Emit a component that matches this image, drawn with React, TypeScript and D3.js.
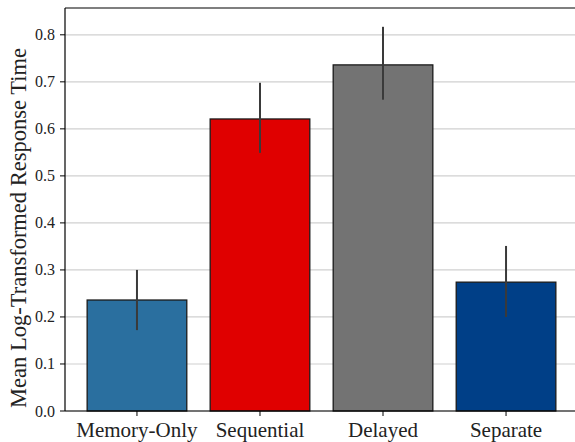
import React from "react";
import * as d3 from "d3";

const categories = ["Memory-Only", "Sequential", "Delayed", "Separate"];
const means = [0.236, 0.621, 0.736, 0.274];
const errLow = [0.172, 0.549, 0.662, 0.2];
const errHigh = [0.3, 0.698, 0.817, 0.351];
const colors = ["#2a6f9f", "#e00000", "#737373", "#003f87"];
const yTicks = [0, 0.1, 0.2, 0.3, 0.4, 0.5, 0.6, 0.7, 0.8];

const W = 575;
const H = 442;
const left = 65;
const top = 8;
const bottom = 411;
const right = 578;

const font = "Liberation Serif, Times New Roman, serif";

export default function App() {
  const y = d3.scaleLinear().domain([0, 0.857]).range([bottom, top]);
  const x = d3
    .scaleBand<string>()
    .domain(categories)
    .range([left, right])
    .paddingInner(0.19)
    .paddingOuter(0.18);
  const bw = x.bandwidth();
  return (
    <svg
      width={W}
      height={H}
      style={{ position: "absolute", left: 0, top: 0, fontFamily: font }}
    >
      <rect x={0} y={0} width={W} height={H} fill="#fff" />
      {yTicks.map((t) => (
        <line
          key={"g" + t}
          x1={left}
          x2={right}
          y1={y(t)}
          y2={y(t)}
          stroke="#d0d0d0"
          strokeWidth={1.2}
        />
      ))}
      {categories.map((c, i) => (
        <rect
          key={c}
          x={x(c)!}
          y={y(means[i])}
          width={bw}
          height={bottom - y(means[i])}
          fill={colors[i]}
          stroke="#1a1a1a"
          strokeWidth={1.3}
        />
      ))}
      {categories.map((c, i) => (
        <line
          key={"e" + c}
          x1={x(c)! + bw / 2}
          x2={x(c)! + bw / 2}
          y1={y(errLow[i])}
          y2={y(errHigh[i])}
          stroke="#3a3a3a"
          strokeWidth={2}
        />
      ))}
      <line x1={left} x2={right} y1={top} y2={top} stroke="#000" strokeWidth={1.2} />
      <line x1={left} x2={right} y1={bottom} y2={bottom} stroke="#000" strokeWidth={1.2} />
      <line x1={left} x2={left} y1={top} y2={bottom} stroke="#000" strokeWidth={1.2} />
      <line x1={right} x2={right} y1={top} y2={bottom} stroke="#000" strokeWidth={1.2} />
      {yTicks.map((t) => (
        <line
          key={"tk" + t}
          x1={left - 5}
          x2={left}
          y1={y(t)}
          y2={y(t)}
          stroke="#000"
          strokeWidth={1}
        />
      ))}
      {yTicks.map((t) => (
        <text
          key={"tl" + t}
          x={left - 10}
          y={y(t) + 5.5}
          textAnchor="end"
          fontFamily={font}
          fontSize={16}
          fill="#222"
        >
          {d3.format(".1f")(t)}
        </text>
      ))}
      {categories.map((c) => (
        <line
          key={"xt" + c}
          x1={x(c)! + bw / 2}
          x2={x(c)! + bw / 2}
          y1={bottom}
          y2={bottom + 5}
          stroke="#000"
          strokeWidth={1}
        />
      ))}
      {categories.map((c) => (
        <text
          key={"xl" + c}
          x={x(c)! + bw / 2}
          y={bottom + 26}
          textAnchor="middle"
          fontFamily={font}
          fontSize={21}
          fill="#222"
        >
          {c}
        </text>
      ))}
      <text
        transform={`translate(26, 228) rotate(-90)`}
        textAnchor="middle"
        fontFamily={font}
        fontSize={22.5}
        fill="#222"
      >
        Mean Log-Transformed Response Time
      </text>
    </svg>
  );
}
